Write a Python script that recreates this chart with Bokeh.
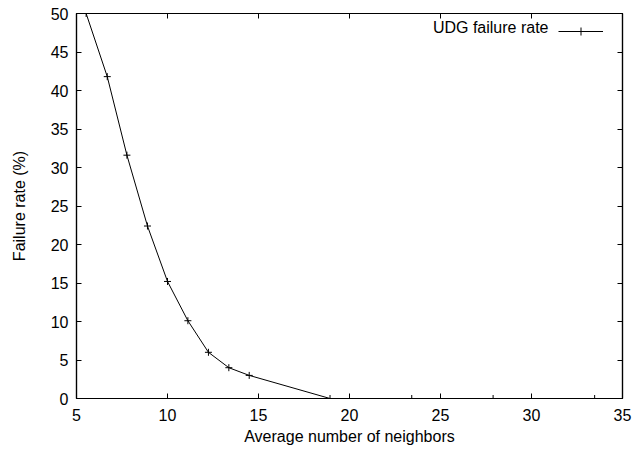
from bokeh.plotting import figure
from bokeh.models import Range1d, LinearAxis, FixedTicker, Legend, LegendItem, Label
from bokeh.embed import file_html
from bokeh.resources import INLINE

# Data
avg_neighbors = [5.53, 6.69, 7.77, 8.90, 10.0, 11.12, 12.25, 13.37, 14.49, 18.93, 23.42, 27.89, 33.47]
failure_rate = [50.0, 41.8, 31.6, 22.4, 15.2, 10.1, 6.0, 4.0, 3.0, 0.0, 0.0, 0.0, 0.0]
series_name = "UDG failure rate"
x_ticks = [5, 10, 15, 20, 25, 30, 35]
y_ticks = [0, 5, 10, 15, 20, 25, 30, 35, 40, 45, 50]

FONT = "Liberation Sans"
FS = "16px"

p = figure(width=635, height=451, output_backend="svg", toolbar_location=None,
           x_range=Range1d(5, 35), y_range=Range1d(0, 50),
           min_border_left=76, min_border_right=13, min_border_top=13, min_border_bottom=53)
p.background_fill_color = "white"
p.border_fill_color = "white"
p.outline_line_color = "black"
p.outline_line_width = 1.2
p.grid.visible = False

ln = p.line(avg_neighbors, failure_rate, line_color="black", line_width=1)
mk = p.scatter(avg_neighbors, failure_rate, marker="cross", size=7, line_color="black", line_width=1)

def style(ax, labels=True):
    ax.axis_line_color = "black"
    ax.axis_line_width = 1.2
    ax.major_tick_in = 5
    ax.major_tick_out = 0
    ax.minor_tick_in = 0
    ax.minor_tick_out = 0
    ax.major_tick_line_color = "black"
    ax.major_label_text_font = FONT
    ax.major_label_text_font_size = FS
    ax.major_label_text_color = "black"
    ax.axis_label_text_font = FONT
    ax.axis_label_text_font_size = FS
    ax.axis_label_text_font_style = "normal"
    ax.axis_label_text_color = "black"
    if not labels:
        ax.major_label_text_font_size = "0px"
        ax.major_label_text_alpha = 0
        ax.major_label_standoff = 0

xa = p.xaxis[0]
xa.ticker = FixedTicker(ticks=x_ticks)
style(xa)
xa.major_label_standoff = 10
xa.axis_label = "Average number of neighbors"
xa.axis_label_standoff = 4

ya = p.yaxis[0]
ya.ticker = FixedTicker(ticks=y_ticks)
style(ya)
ya.major_label_standoff = 8
ya.axis_label = "Failure rate (%)"
ya.axis_label_standoff = 20

top = LinearAxis(ticker=FixedTicker(ticks=x_ticks))
style(top, labels=False)
p.add_layout(top, "above")
right = LinearAxis(ticker=FixedTicker(ticks=y_ticks))
style(right, labels=False)
p.add_layout(right, "right")

legend = Legend(items=[LegendItem(label=" ", renderers=[ln, mk])],
                location="top_right", glyph_width=45, glyph_height=20,
                label_width=0, label_standoff=0, padding=0, spacing=0,
                margin=0, border_line_alpha=0, background_fill_alpha=0,
                label_text_font_size="1px")
legend.location = (482, 357)
p.add_layout(legend)

p.add_layout(Label(x=548 - 76, y=398 - 27, x_units="screen", y_units="screen",
                   text=series_name, text_align="right", text_baseline="middle",
                   text_font=FONT, text_font_size=FS, text_color="black"))

open("out.html", "w").write(file_html(p, INLINE))
